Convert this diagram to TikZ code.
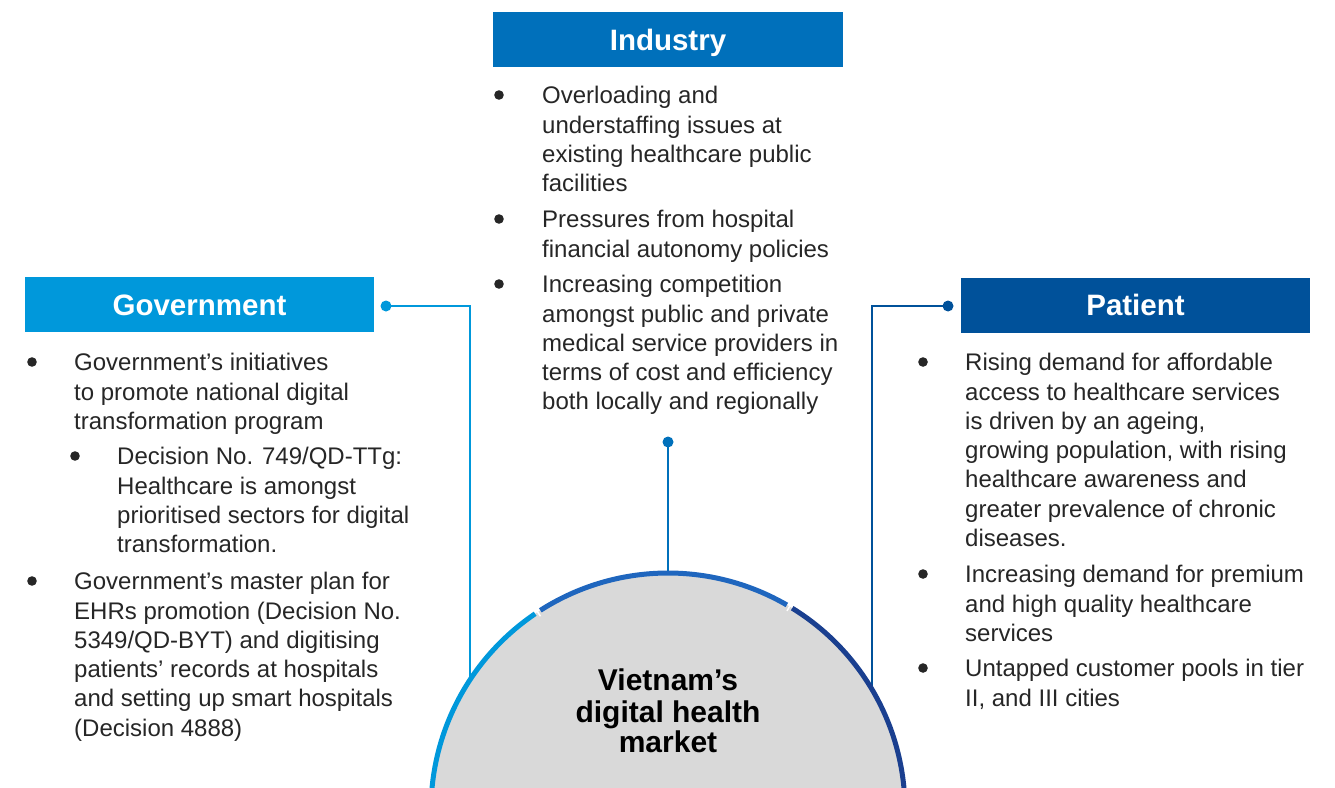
\documentclass[tikz,border=0pt]{standalone}
\usepackage{fontspec}
\setmainfont{Liberation Sans}
\definecolor{govblue}{HTML}{0098DB}
\definecolor{indblue}{HTML}{0070BB}
\definecolor{patblue}{HTML}{00519A}
\definecolor{arcmid}{HTML}{1F66BE}
\definecolor{arcdark}{HTML}{1A3F8F}
\definecolor{hubgray}{HTML}{D9D9D9}
\definecolor{txtcol}{HTML}{262626}
\tikzset{
  hdr/.style={rectangle, minimum width=349pt, minimum height=55pt, inner sep=0pt,
    text=white, text height=21.2pt, text depth=0pt,
    font=\bfseries\fontsize{29.5}{30}\selectfont},
  para/.style={anchor=north west, inner sep=0pt, align=left, text=txtcol,
    font=\fontsize{24}{29.3}\selectfont},
  condot/.style={circle, minimum size=11pt, inner sep=0pt},
  conline/.style={line width=2pt},
  ring/.style={line width=5pt},
}
\begin{document}
\begin{tikzpicture}[x=1pt,y=-1pt]
\useasboundingbox (0,0) rectangle (1335,787);
\clip (0,0) rectangle (1335,787);

% headers
\node[hdr, fill=indblue, minimum width=350pt] (indhdr) at (668,39.7) {Industry};
\node[hdr, fill=govblue] (govhdr) at (199.5,304.7) {Government};
\node[hdr, fill=patblue] (pathdr) at (1135.5,305) {Patient};

% connector dots and ends
\node[condot, fill=govblue] (govdot) at (386,306) {};
\node[condot, fill=patblue] (patdot) at (948,306) {};
\node[condot, fill=indblue] (inddot) at (668,442) {};
\coordinate (govend) at (470,700);
\coordinate (patend) at (872,700);

% hub
\node[circle, minimum size=474pt, inner sep=0pt] (hub) at (668,810) {};

\draw[conline, govblue] (govdot.center) -| (govend);
\draw[conline, patblue] (patdot.center) -| (patend);
\draw[conline, indblue] (inddot.center) -- (hub.north);

\fill[hubgray] (hub.center) circle (237pt);
\draw[ring, govblue] ([shift={(180:237pt)}]hub.center) arc[start angle=180, end angle=124.1, radius=237pt];
\draw[ring, arcmid] ([shift={(122.6:237pt)}]hub.center) arc[start angle=122.6, end angle=59.9, radius=237pt];
\draw[ring, arcdark] ([shift={(58.4:237pt)}]hub.center) arc[start angle=58.4, end angle=0, radius=237pt];
\draw[white, line width=1.5pt] ([shift={(123.35:232pt)}]hub.center) -- ([shift={(123.35:240pt)}]hub.center);
\draw[white, line width=1.5pt] ([shift={(59.15:232pt)}]hub.center) -- ([shift={(59.15:240pt)}]hub.center);

\node[anchor=north, inner sep=0pt, align=center, text=black,
  font=\bfseries\fontsize{30}{30}\selectfont] (hubtext) at (668,669)
  {\strut Vietnam’s\\digital health\\market};

% Industry bullets
\node[para] (i1) at (542,83) {\strut Overloading and\\understaffing issues at\\existing healthcare public\\facilities};
\node[para] (i2) at (542,207) {\strut Pressures from hospital\\financial autonomy policies};
\node[para] (i3) at (542,272) {\strut Increasing competition\\amongst public and private\\medical service providers in\\terms of cost and efficiency\\both locally and regionally};
\fill[txtcol] (499,95) circle (4.8pt);
\fill[txtcol] (499,219) circle (4.8pt);
\fill[txtcol] (499,284) circle (4.8pt);

% Government bullets
\node[para] (g1) at (74,350) {\strut Government’s initiatives\\to promote national digital\\transformation program};
\node[para] (g2) at (117,444) {\strut Decision No. 749/QD-TTg:\\Healthcare is amongst\\prioritised sectors for digital\\transformation.};
\node[para] (g3) at (74,569) {\strut Government’s master plan for\\EHRs promotion (Decision No.\\5349/QD-BYT) and digitising\\patients’ records at hospitals\\and setting up smart hospitals\\(Decision 4888)};
\fill[txtcol] (32,362) circle (4.8pt);
\fill[txtcol] (75,456) circle (4.8pt);
\fill[txtcol] (32,581) circle (4.8pt);

% Patient bullets
\node[para] (p1) at (965,350) {\strut Rising demand for affordable\\access to healthcare services\\is driven by an ageing,\\growing population, with rising\\healthcare awareness and\\greater prevalence of chronic\\diseases.};
\node[para] (p2) at (965,562) {\strut Increasing demand for premium\\and high quality healthcare\\services};
\node[para] (p3) at (965,656) {\strut Untapped customer pools in tier\\II, and III cities};
\fill[txtcol] (923,362) circle (4.8pt);
\fill[txtcol] (923,574) circle (4.8pt);
\fill[txtcol] (923,668) circle (4.8pt);
\end{tikzpicture}
\end{document}
